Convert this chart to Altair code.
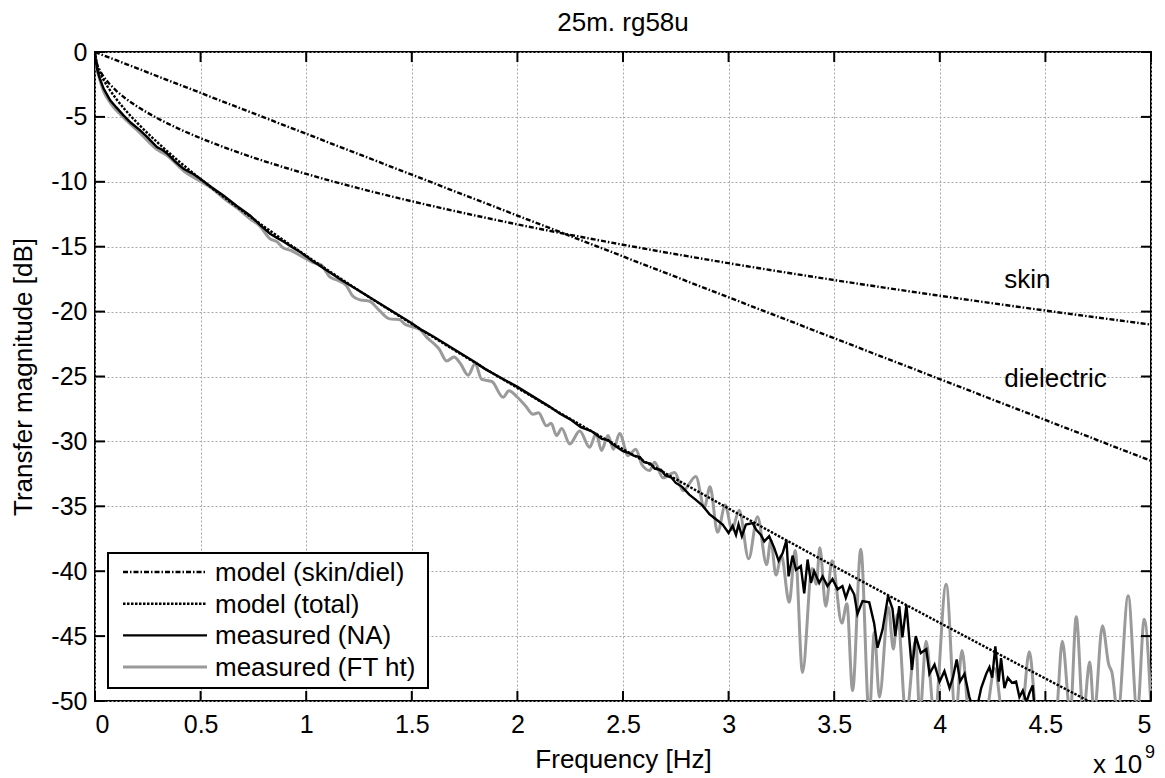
import altair as alt
import pandas as pd

FONT = "Liberation Sans"

# ---- model curves (frequency in GHz, magnitude in dB) ----
model_f = [0, 0.01, 0.02, 0.04, 0.07, 0.1, 0.15, 0.2, 0.3, 0.4, 0.5, 0.65, 0.8,
           1.0, 1.25, 1.5, 1.75, 2.0, 2.5, 3.0, 3.5, 4.0, 4.5, 5.0]
model_skin = [0, -0.94, -1.33, -1.88, -2.48, -2.97, -3.64, -4.2, -5.14, -5.94, -6.64,
              -7.57, -8.4, -9.39, -10.5, -11.5, -12.42, -13.28, -14.85, -16.27, -17.57,
              -18.78, -19.92, -21.0]
model_diel = [0, -0.06, -0.13, -0.25, -0.44, -0.63, -0.95, -1.26, -1.89, -2.52, -3.15,
              -4.1, -5.04, -6.3, -7.88, -9.45, -11.03, -12.6, -15.75, -18.9, -22.05,
              -25.2, -28.35, -31.5]
model_total = [0, -1.0, -1.46, -2.13, -2.92, -3.6, -4.59, -5.46, -7.03, -8.46, -9.79,
               -11.67, -13.44, -15.69, -18.38, -20.95, -23.45, -25.88, -30.6, -35.17,
               -39.62, -43.98, -48.27, -52.5]

# ---- measured (NA) ----
na_f = [0.0, 0.01, 0.02, 0.04, 0.072, 0.1, 0.135, 0.17, 0.214, 0.25, 0.293, 0.32, 0.34,
        0.38, 0.419, 0.46, 0.498, 0.55, 0.608, 0.67, 0.734, 0.78, 0.829, 0.86, 0.892,
        0.93, 0.971, 1.03, 1.1, 1.15, 1.19, 1.25, 1.3, 1.4, 1.5, 1.55, 1.6, 1.7, 1.8,
        1.85, 1.9, 2.0, 2.05, 2.1, 2.15, 2.2, 2.25, 2.3, 2.35, 2.4, 2.43, 2.45, 2.5,
        2.53, 2.55, 2.58, 2.6, 2.63, 2.65, 2.68, 2.7, 2.73, 2.75, 2.78, 2.814, 2.845,
        2.877, 2.909, 2.94, 2.972, 3.0, 3.019, 3.035, 3.047, 3.063, 3.082, 3.114, 3.13,
        3.153, 3.169, 3.192, 3.216, 3.237, 3.256, 3.274, 3.284, 3.303, 3.319, 3.342,
        3.358, 3.374, 3.39, 3.405, 3.429, 3.445, 3.468, 3.492, 3.516, 3.539, 3.555,
        3.574, 3.595, 3.61, 3.634, 3.666, 3.689, 3.705, 3.729, 3.755, 3.776, 3.789,
        3.808, 3.823, 3.842, 3.868, 3.886, 3.91, 3.936, 3.951, 3.975, 3.999, 4.022,
        4.046, 4.062, 4.08, 4.096, 4.117, 4.14, 4.156, 4.175, 4.196, 4.22, 4.235, 4.248,
        4.263, 4.279, 4.29, 4.306, 4.322, 4.342, 4.361, 4.377, 4.393, 4.41, 4.424,
        4.44, 4.448]
na_db = [-0.3, -1.3, -1.9, -2.8, -3.72, -4.25, -4.88, -5.45, -6.04, -6.6, -7.32, -7.55,
         -7.8, -8.45, -8.99, -9.35, -9.76, -10.4, -11.05, -11.85, -12.59, -13.3, -14.0,
         -14.3, -14.6, -15.0, -15.4, -16.1, -16.85, -17.4, -17.8, -18.4, -18.9, -19.9,
         -20.9, -21.45, -21.9, -22.9, -23.9, -24.45, -24.9, -25.8, -26.3, -26.8, -27.3,
         -27.85, -28.3, -28.9, -29.2, -29.8, -29.9, -30.2, -30.75, -30.9, -31.1, -31.2,
         -31.6, -31.7, -32.1, -32.2, -32.6, -32.8, -33.2, -33.5, -34.1, -34.5, -34.95,
         -35.6, -36.0, -36.4, -37.05, -36.5, -37.2, -36.4, -37.3, -36.4, -36.3, -36.8,
         -37.2, -37.7, -37.3, -38.2, -39.2, -38.6, -37.6, -40.4, -38.8, -39.9, -39.6,
         -41.7, -39.1, -40.9, -40.0, -40.9, -40.4, -41.15, -40.6, -41.4, -41.15, -42.05,
         -41.15, -41.8, -43.3, -42.3, -42.4, -44.0, -45.9, -44.5, -41.9, -42.9, -45.0,
         -42.7, -45.1, -42.6, -47.6, -45.0, -46.3, -46.0, -47.9, -47.2, -48.5, -47.7,
         -49.0, -48.2, -46.8, -48.5, -47.9, -49.7, -50.5, -50.6, -49.0, -47.9, -47.4,
         -48.2, -45.8, -48.5, -46.7, -49.0, -48.2, -48.6, -48.5, -49.7, -49.2, -50.1,
         -49.4, -48.8, -50.5]

# ---- measured (FT ht) ----
ft_f = [0.0, 0.01, 0.02, 0.04, 0.072, 0.135, 0.214, 0.293, 0.34, 0.419, 0.498, 0.56,
        0.608, 0.68, 0.734, 0.78, 0.829, 0.86, 0.892, 0.93, 0.971, 1.03, 1.07, 1.113,
        1.15, 1.19, 1.22, 1.255, 1.3, 1.34, 1.396, 1.44, 1.47, 1.507, 1.54, 1.57, 1.6,
        1.63, 1.665, 1.7, 1.73, 1.767, 1.8, 1.83, 1.88, 1.932, 1.96, 2.0, 2.04, 2.074,
        2.1, 2.138, 2.16, 2.185, 2.21, 2.248, 2.295, 2.342, 2.373, 2.398, 2.429, 2.455,
        2.484, 2.524, 2.56, 2.59, 2.626, 2.65, 2.689, 2.745, 2.784, 2.845, 2.885, 2.912,
        2.948, 2.984, 3.016, 3.05, 3.095, 3.137, 3.18, 3.2, 3.224, 3.25, 3.287, 3.315,
        3.35, 3.395, 3.415, 3.432, 3.46, 3.49, 3.536, 3.56, 3.587, 3.626, 3.666, 3.69,
        3.714, 3.757, 3.78, 3.8, 3.84, 3.886, 3.905, 3.935, 3.975, 4.03, 4.075, 4.105,
        4.14, 4.19, 4.215, 4.26, 4.3, 4.36, 4.385, 4.424, 4.46, 4.52, 4.55, 4.58, 4.618,
        4.646, 4.679, 4.71, 4.731, 4.77, 4.8, 4.815, 4.843, 4.892, 4.935, 4.968, 5.0]
ft_db = [-0.4, -1.4, -2.0, -3.0, -3.9, -5.05, -6.25, -7.5, -7.95, -9.15, -9.95, -10.6,
         -11.25, -12.1, -12.85, -13.4, -14.4, -14.6, -15.1, -15.3, -15.67, -16.2, -16.4,
         -17.35, -17.6, -18.0, -18.8, -19.1, -19.2, -19.8, -20.56, -20.6, -21.0, -21.2,
         -21.4, -21.97, -22.4, -22.9, -23.8, -23.5, -24.0, -24.9, -24.0, -25.2, -25.4,
         -26.6, -26.1, -26.6, -27.3, -27.9, -27.8, -28.8, -28.6, -29.55, -29.0, -30.2,
         -29.2, -30.45, -29.4, -30.7, -29.55, -30.6, -29.4, -31.1, -30.6, -31.8, -32.25,
         -31.6, -32.8, -32.4, -33.8, -32.7, -35.1, -33.5, -37.0, -34.9, -36.8, -35.3,
         -39.05, -35.8, -39.5, -37.6, -40.3, -38.8, -42.4, -38.4, -47.8, -39.8, -41.0,
         -38.2, -42.7, -39.2, -44.0, -42.5, -49.2, -38.3, -51.2, -44.7, -49.7, -42.8,
         -46.0, -43.3, -51.2, -45.3, -51.2, -45.4, -51.2, -41.0, -51.2, -46.1, -51.2,
         -50.6, -51.2, -47.5, -51.2, -50.6, -51.2, -46.2, -51.2, -50.8, -51.0, -45.4,
         -51.0, -43.5, -51.0, -47.0, -51.0, -44.2, -47.2, -47.8, -51.0, -41.9, -51.0,
         -43.7, -50.5]

x_ticks = [0, 0.5, 1, 1.5, 2, 2.5, 3, 3.5, 4, 4.5, 5]
y_ticks = [-50, -45, -40, -35, -30, -25, -20, -15, -10, -5, 0]

legend_labels = ["model (skin/diel)", "model (total)", "measured (NA)", "measured (FT ht)"]

W, H = 1056, 649
TICK = 10

xs = alt.Scale(domain=[0, 5], nice=False, zero=False)
ys = alt.Scale(domain=[-50, 0], nice=False, zero=False)

x_axis = alt.Axis(values=x_ticks, title="Frequency [Hz]", labelExpr="'' + datum.value",
                  labelPadding=11, labelBaseline="top", titleY=66,
                  titleBaseline="alphabetic")
y_axis = alt.Axis(values=y_ticks, title="Transfer magnitude [dB]",
                  labelExpr="'' + datum.value", labelPadding=8, titleX=-64,
                  titleBaseline="alphabetic")


def X(field="f"):
    return alt.X(f"{field}:Q", scale=xs, axis=x_axis)


def Y(field="db"):
    return alt.Y(f"{field}:Q", scale=ys, axis=y_axis)


models = pd.DataFrame({"f": model_f, "skin": model_skin, "diel": model_diel,
                       "total": model_total})
na = pd.DataFrame({"f": na_f, "db": na_db})
ft = pd.DataFrame({"f": ft_f, "db": ft_db})
xt = pd.DataFrame({"f": x_ticks})
yt = pd.DataFrame({"db": y_ticks})

DASH_SD = [5, 2, 1.5, 2]
DASH_TOT = [2.5, 1.5]
MW = 2.4

ft_line = alt.Chart(ft).mark_line(color="#9a9a9a", strokeWidth=3, clip=True,
                                  interpolate="monotone").encode(x=X(), y=Y())
na_line = alt.Chart(na).mark_line(color="black", strokeWidth=2.4, clip=True).encode(
    x=X(), y=Y())
skin_line = alt.Chart(models).mark_line(color="black", strokeWidth=MW, clip=True,
                                        strokeDash=DASH_SD, interpolate="monotone").encode(
    x=X(), y=Y("skin"))
diel_line = alt.Chart(models).mark_line(color="black", strokeWidth=MW, clip=True,
                                        strokeDash=DASH_SD).encode(x=X(), y=Y("diel"))
total_line = alt.Chart(models).mark_line(color="black", strokeWidth=MW, clip=True,
                                         strokeDash=DASH_TOT,
                                         interpolate="monotone").encode(x=X(), y=Y("total"))

# inward tick marks on all four sides
tk = dict(color="black", strokeWidth=2)
ticks_top = alt.Chart(xt).mark_rule(**tk).encode(x=X(), y=alt.value(0), y2=alt.value(TICK))
ticks_bot = alt.Chart(xt).mark_rule(**tk).encode(x=X(), y=alt.value(H),
                                                 y2=alt.value(H - TICK))
ticks_left = alt.Chart(yt).mark_rule(**tk).encode(y=Y(), x=alt.value(0), x2=alt.value(TICK))
ticks_right = alt.Chart(yt).mark_rule(**tk).encode(y=Y(), x=alt.value(W - TICK),
                                                   x2=alt.value(W))

# title and curve annotations
txt = dict(font=FONT, fontSize=26, color="black", align="left", baseline="alphabetic")
title_txt = alt.Chart(pd.DataFrame({"t": ["25m. rg58u"]})).mark_text(
    font=FONT, fontSize=26, color="black", align="center", baseline="alphabetic").encode(
    x=alt.value(W / 2), y=alt.value(-21), text="t:N")
lab_skin = alt.Chart(pd.DataFrame({"t": ["skin"]})).mark_text(**txt).encode(
    x=alt.datum(4.305, scale=xs), y=alt.datum(-18.2, scale=ys), text="t:N")
lab_diel = alt.Chart(pd.DataFrame({"t": ["dielectric"]})).mark_text(**txt).encode(
    x=alt.datum(4.305, scale=xs), y=alt.datum(-25.8, scale=ys), text="t:N")

# exponent annotation
exp_base = alt.Chart(pd.DataFrame({"t": ["x 10"]})).mark_text(**txt).encode(
    x=alt.value(998), y=alt.value(721), text="t:N")
exp_sup = alt.Chart(pd.DataFrame({"t": ["9"]})).mark_text(
    font=FONT, fontSize=18, color="black", align="left", baseline="alphabetic").encode(
    x=alt.value(1050), y=alt.value(706), text="t:N")

# legend box
LX0, LX1, LY0, LY1 = 13, 333, 501, 636
legend_box = alt.Chart(pd.DataFrame({"a": [0]})).mark_rect(
    fill="white", stroke="black", strokeWidth=2).encode(
    x=alt.value(LX0), x2=alt.value(LX1), y=alt.value(LY0), y2=alt.value(LY1))

legend_styles = [
    dict(color="black", strokeWidth=MW, strokeDash=DASH_SD),
    dict(color="black", strokeWidth=MW, strokeDash=DASH_TOT),
    dict(color="black", strokeWidth=2.4),
    dict(color="#9a9a9a", strokeWidth=3),
]
legend_layers = []
for i, (lab, sty) in enumerate(zip(legend_labels, legend_styles)):
    yy = 520 + i * 31.7
    legend_layers.append(
        alt.Chart(pd.DataFrame({"t": [lab]})).mark_rule(**sty).encode(
            x=alt.value(28), x2=alt.value(112), y=alt.value(yy)))
    legend_layers.append(
        alt.Chart(pd.DataFrame({"t": [lab]})).mark_text(
            font=FONT, fontSize=26, color="black", align="left", baseline="middle").encode(
            x=alt.value(120), y=alt.value(yy + 1), text="t:N"))

chart = alt.layer(
    ft_line, na_line, skin_line, diel_line, total_line,
    ticks_top, ticks_bot, ticks_left, ticks_right,
    title_txt, lab_skin, lab_diel, exp_base, exp_sup,
    legend_box, *legend_layers,
).properties(
    width=W, height=H,
    autosize=alt.AutoSizeParams(type="none"),
    padding={"left": 95, "top": 52, "right": 14, "bottom": 77},
    background="white",
).configure_view(
    stroke="black", strokeWidth=2
).configure_axis(
    labelFont=FONT, labelFontSize=25, labelColor="black",
    titleFont=FONT, titleFontSize=26, titleFontWeight="normal", titleColor="black",
    grid=True, gridColor="#a8a8a8", gridDash=[2, 2], gridWidth=1,
    domain=False, ticks=False, tickSize=0,
)

chart.save("out.html", embed_options={"renderer": "svg", "actions": False})
